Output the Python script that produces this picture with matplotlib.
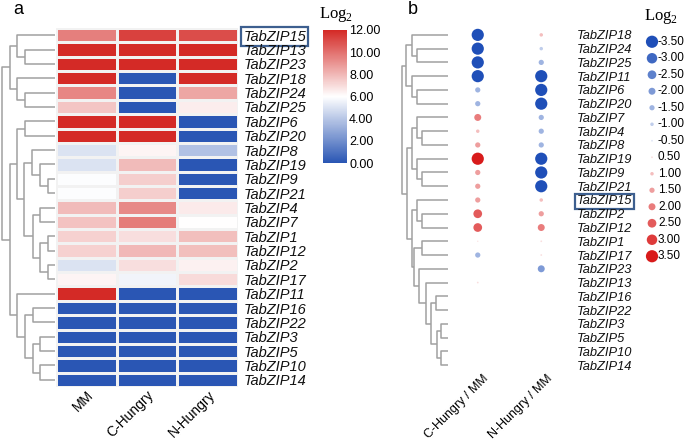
import numpy as np
import matplotlib
matplotlib.use('Agg')
import matplotlib.pyplot as plt
from matplotlib.colors import LinearSegmentedColormap, Normalize
from matplotlib.transforms import ScaledTranslation

plt.rcParams['font.family'] = ['Liberation Sans', 'DejaVu Sans']

# ---- panel a: expression heatmap (Log2) ----
genes_a = ['TabZIP15', 'TabZIP13', 'TabZIP23', 'TabZIP18', 'TabZIP24', 'TabZIP25',
           'TabZIP6', 'TabZIP20', 'TabZIP8', 'TabZIP19', 'TabZIP9', 'TabZIP21',
           'TabZIP4', 'TabZIP7', 'TabZIP1', 'TabZIP12', 'TabZIP2', 'TabZIP17',
           'TabZIP11', 'TabZIP16', 'TabZIP22', 'TabZIP3', 'TabZIP5', 'TabZIP10', 'TabZIP14']
conditions = ['MM', 'C-Hungry', 'N-Hungry']
mm       = [9.6, 12, 12, 12, 9.4, 7.6, 12, 12, 5.0, 5.0, 5.95, 5.95, 7.9, 7.7, 7.3, 7.3, 5.0, 6.3,
            12, 0, 0, 0, 0, 0, 0]
c_hungry = [11.3, 12, 12, 0, 0, 0, 12, 12, 6.3, 7.9, 7.4, 7.4, 9.3, 9.7, 6.9, 8.0, 6.9, 5.6,
            0, 0, 0, 0, 0, 0, 0]
n_hungry = [11.0, 12, 12, 12, 8.5, 6.5, 0, 0, 3.8, 0, 0, 0, 6.6, 6.0, 7.8, 7.8, 6.4, 7.0,
            0, 0, 0, 0, 0, 0, 0]
cbar_ticks = [0, 2, 4, 6, 8, 10, 12]

# row dendrogram: (child, child, height); ids >= 25 refer to earlier merges
tree_a = [(1, 2, 30), (0, 25, 38), (4, 5, 30), (3, 27, 38), (26, 28, 45),
          (6, 7, 30), (10, 11, 7), (9, 31, 15), (8, 32, 23), (12, 13, 15),
          (14, 15, 7), (16, 17, 7), (35, 36, 15), (34, 37, 22), (33, 38, 31),
          (30, 39, 38), (19, 20, 22), (21, 22, 15), (23, 24, 15), (42, 43, 22),
          (41, 44, 30), (18, 45, 38), (40, 46, 45), (29, 47, 53)]

# ---- panel b: fold change bubbles ----
genes_b = ['TabZIP18', 'TabZIP24', 'TabZIP25', 'TabZIP11', 'TabZIP6', 'TabZIP20',
           'TabZIP7', 'TabZIP4', 'TabZIP8', 'TabZIP19', 'TabZIP9', 'TabZIP21',
           'TabZIP15', 'TabZIP2', 'TabZIP12', 'TabZIP1', 'TabZIP17', 'TabZIP23',
           'TabZIP13', 'TabZIP16', 'TabZIP22', 'TabZIP3', 'TabZIP5', 'TabZIP10', 'TabZIP14']
ratios = ['C-Hungry / MM', 'N-Hungry / MM']
c_vs_mm = [-3.5, -3.5, -3.5, -3.5, -1.5, -1.5, 2.0, 1.0, 1.5, 3.5, 1.5, 1.5,
           1.5, 2.5, 2.5, 0.4, -1.5, 0, 0.5, 0, 0, 0, 0, 0, 0]
n_vs_mm = [1.0, -1.0, -1.5, -3.5, -3.5, -3.5, -1.5, -1.5, -1.5, -3.5, -3.5, -3.5,
           1.0, 1.5, 2.0, 0.5, 0.5, -2.0, 0, 0, 0, 0, 0, 0, 0]
legend_vals = [-3.5, -3.0, -2.5, -2.0, -1.5, -1.0, -0.5, 0.5, 1.0, 1.5, 2.0, 2.5, 3.0, 3.5]

tree_b = [(1, 2, 32), (0, 25, 37), (4, 5, 32), (3, 27, 37), (26, 28, 43),
          (7, 8, 27), (6, 30, 32), (10, 11, 27), (9, 32, 32), (31, 33, 37),
          (13, 14, 27), (12, 35, 32), (15, 16, 26), (19, 20, 12), (21, 22, 7),
          (23, 24, 7), (39, 40, 11), (38, 41, 17), (18, 42, 22), (17, 43, 30),
          (37, 44, 35), (36, 45, 37), (34, 46, 42), (29, 47, 47)]

W, H = 685, 442
fig = plt.figure(figsize=(6.85, 4.42), dpi=100)


def px_axes(x0, y0, x1, y1):
    return fig.add_axes([x0 / W, 1 - y1 / H, (x1 - x0) / W, (y1 - y0) / H])


def draw_tree(ax, tree, n):
    pos = {i: (float(i), 0.0) for i in range(n)}
    for k, (a, b, h) in enumerate(tree):
        ya, ha = pos[a]
        yb, hb = pos[b]
        ax.plot([ha, h, h, hb], [ya, ya, yb, yb], color='#a0a0a0', lw=1.1,
                solid_capstyle='butt')
        pos[n + k] = ((ya + yb) / 2, h)


blue, red = '#2a56b4', '#d42a26'
cmap = LinearSegmentedColormap.from_list('bwr_a', [blue, '#ffffff', red])

# ---- panel a ----
n = len(genes_a)
data = np.array([mm, c_hungry, n_hungry]).T
ax = px_axes(56, 28, 238, 387)
ax.pcolormesh(np.arange(4), np.arange(n + 1) - 0.5, data, cmap=cmap, vmin=0, vmax=12,
              edgecolors='#f2f2f2', linewidth=0.9)
ax.set_ylim(n - 0.5, -0.5)
ax.set_xlim(0, 3)
for s in ax.spines.values():
    s.set_visible(False)
ax.yaxis.tick_right()
ax.set_yticks(range(n))
ax.set_yticklabels(genes_a, fontsize=10.5, style='italic', color='#111111')
ax.set_xticks(np.arange(3) + 0.5)
ax.set_xticklabels(conditions, fontsize=10, rotation=45, ha='right', va='top',
                   rotation_mode='anchor')
ax.tick_params(length=0, pad=4)
ax.tick_params(axis='x', pad=1)
ax.get_yticklabels()[0].set_bbox(dict(boxstyle='square,pad=0.15', fc='none',
                                      ec='#3d5f8f', lw=1.6))

axd = px_axes(0, 28, 56, 387)
draw_tree(axd, tree_a, n)
axd.set_ylim(n - 0.5, -0.5)
axd.set_xlim(55, -1)
axd.axis('off')

cax = px_axes(323, 30, 347, 163)
sm = plt.cm.ScalarMappable(norm=Normalize(0, 12), cmap=cmap)
cb = fig.colorbar(sm, cax=cax, ticks=cbar_ticks)
cb.outline.set_visible(False)
cb.ax.set_yticklabels([f'{t:.2f}' for t in cbar_ticks], fontsize=9)
cb.ax.tick_params(length=0, pad=1.5)
fig.text(336 / W, 1 - 14 / H, r'Log$_\mathregular{2}$', family='Liberation Serif',
         fontsize=12, ha='center', va='center')
fig.text(18 / W, 1 - 9 / H, 'a', fontsize=13, ha='center', va='center')

# ---- panel b ----
nb = len(genes_b)
bub_norm = Normalize(-3.5, 3.5)
bub_cmap = LinearSegmentedColormap.from_list('bwr_b', ['#1f4fb8', '#ffffff', '#d81b1b'])


def bubble_size(v):
    return 6.3 * np.asarray(v) ** 2


axb = px_axes(446, 28, 573, 372)
for j, vals in enumerate([c_vs_mm, n_vs_mm]):
    vals = np.array(vals, dtype=float)
    rows = np.nonzero(vals)[0]
    axb.scatter(np.full(len(rows), j), rows, s=bubble_size(vals[rows]),
                c=vals[rows], cmap=bub_cmap, norm=bub_norm, linewidths=0)
axb.set_xlim(-0.5, 1.5)
axb.set_ylim(nb - 0.5, -0.5)
for s in axb.spines.values():
    s.set_visible(False)
axb.yaxis.tick_right()
axb.set_yticks(range(nb))
axb.set_yticklabels(genes_b, fontsize=9.3, style='italic', color='#111111')
axb.set_xticks([0, 1])
axb.set_xticklabels(ratios, fontsize=9, rotation=45, ha='right', va='top',
                    rotation_mode='anchor')
axb.tick_params(length=0, pad=3)
axb.tick_params(axis='x', pad=0.5)
shift = ScaledTranslation(5 / 100, 0, fig.dpi_scale_trans)
for lab in axb.get_xticklabels():
    lab.set_transform(lab.get_transform() + shift)
axb.get_yticklabels()[12].set_bbox(dict(boxstyle='square,pad=0.15', fc='none',
                                        ec='#3d5f8f', lw=1.6))

axdb = px_axes(395, 28, 449, 372)
draw_tree(axdb, tree_b, nb)
axdb.set_ylim(nb - 0.5, -0.5)
axdb.set_xlim(54, -1)
axdb.axis('off')

# bubble size legend, x in pixels relative to the dots
axl = px_axes(640, 33.5, 685, 264.5)
ly = np.arange(len(legend_vals))
axl.scatter(np.zeros(len(ly)), ly, s=bubble_size(legend_vals), c=legend_vals,
            cmap=bub_cmap, norm=bub_norm, linewidths=0)
for y, v in zip(ly, legend_vals):
    axl.text(6, y, f'{v:.2f}', fontsize=8.5, va='center', ha='left')
axl.set_xlim(-12, 33)
axl.set_ylim(len(ly) - 0.5, -0.5)
axl.axis('off')
fig.text(661 / W, 1 - 17 / H, r'Log$_\mathregular{2}$', family='Liberation Serif',
         fontsize=12, ha='center', va='center')
fig.text(413 / W, 1 - 9 / H, 'b', fontsize=13, ha='center', va='center')

fig.savefig('out.png', dpi=100)
